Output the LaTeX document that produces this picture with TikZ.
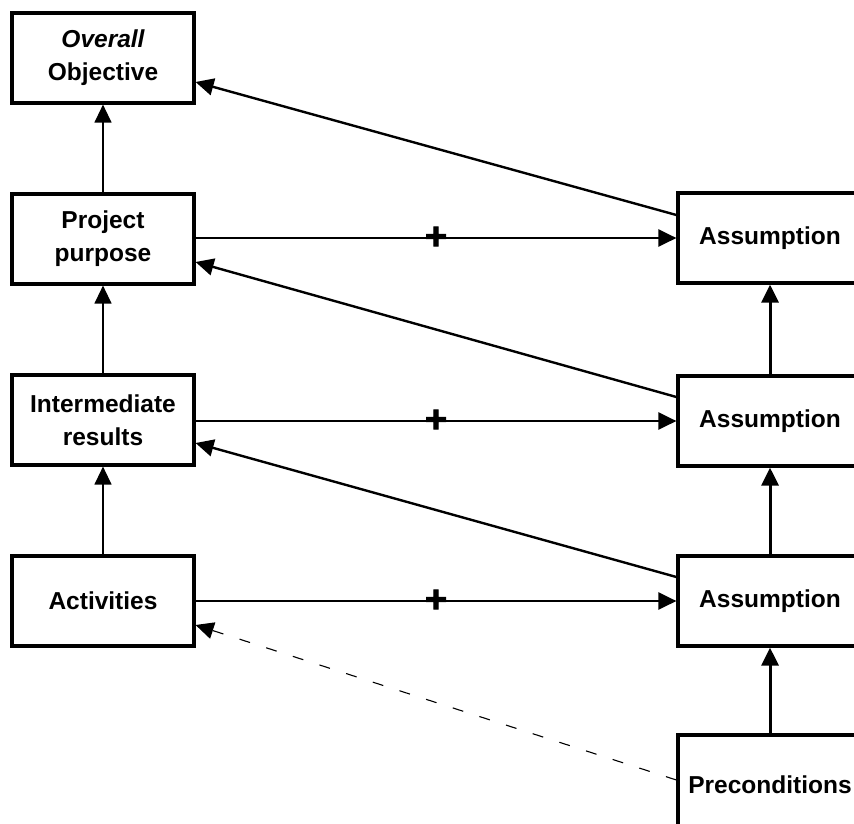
\documentclass[tikz,border=0pt]{standalone}
\usepackage{fontspec}
\setmainfont{Liberation Sans}
\newfontfamily\plusfont[FakeBold=2.5]{Liberation Sans Bold}
\usetikzlibrary{arrows.meta}
\begin{document}
\begin{tikzpicture}[x=1pt,y=-1pt,
  box/.style={draw,line width=3.2pt,rectangle,minimum width=182pt,minimum height=90pt,
    inner sep=0pt,align=center,font=\fontsize{24.5}{33}\selectfont\bfseries},
  rbox/.style={box,minimum width=184pt},
  tip/.style={-{Triangle[length=18pt,width=17pt]}},
  thinarr/.style={tip,line width=1.3pt},
  thickarr/.style={tip,line width=3pt},
  horiz/.style={tip,line width=2.4pt},
  diag/.style={tip,line width=2.4pt},
  dasharr/.style={tip,line width=1.1pt,dash pattern=on 11pt off 17pt},
  plusmark/.style={inner sep=0pt,font=\plusfont\fontsize{38}{38}\selectfont}
]
\useasboundingbox (0,0) rectangle (854,823);
\clip (0,0) rectangle (854,823);

% left column
\node[box] (oo) at (103,58) {\itshape Overall\\Objective};
\node[box] (pp) at (103,239) {Project\\purpose};
\node[box] (ir) at (103,420) {Intermediate\\results};
\node[box] (ac) at (103,601) {Activities};

% right column
\node[rbox] (a1) at (770,238) {Assumption};
\node[rbox] (a2) at (770,421) {Assumption};
\node[rbox] (a3) at (770,601) {Assumption};
\node[rbox,minimum height=100pt] (pc) at (770,785) {Preconditions};

% left vertical arrows
\draw[thinarr] (ac.north) -- (ir.south);
\draw[thinarr] (ir.north) -- (pp.south);
\draw[thinarr] (pp.north) -- (oo.south);

% right vertical arrows
\draw[thickarr] (pc.north) -- (a3.south);
\draw[thickarr] (a3.north) -- (a2.south);
\draw[thickarr] (a2.north) -- (a1.south);

% horizontal arrows with plus marks
\draw[horiz] (pp.east |- a1.west) -- node[plusmark,yshift=0pt] (p1) {+} (a1.west);
\draw[horiz] (ir.east |- a2.west) -- node[plusmark,yshift=0pt] (p2) {+} (a2.west);
\draw[horiz] (ac.east |- a3.west) -- node[plusmark,yshift=0pt] (p3) {+} (a3.west);

% diagonals
\draw[diag] ([yshift=23pt]a1.west) -- ([yshift=-24pt]oo.east);
\draw[diag] ([yshift=24pt]a2.west) -- ([yshift=-23pt]pp.east);
\draw[diag] ([yshift=24pt]a3.west) -- ([yshift=-23pt]ir.east);
\draw[dasharr] ([yshift=5pt]pc.west) -- ([yshift=-24pt]ac.east);
\end{tikzpicture}
\end{document}
